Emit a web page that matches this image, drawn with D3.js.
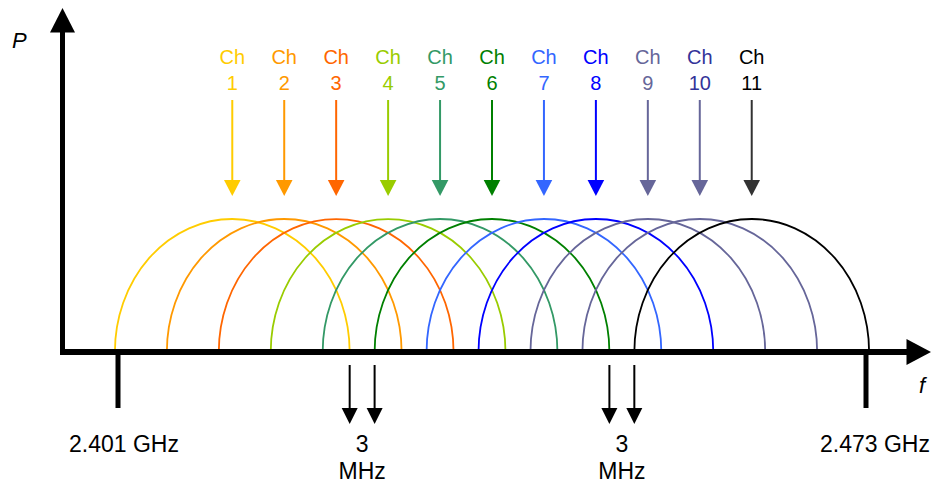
<!DOCTYPE html>
<html>
<head>
<meta charset="utf-8">
<script src="https://cdn.jsdelivr.net/npm/d3@7"></script>
<style>
  html, body { margin: 0; padding: 0; background: #fff; }
  svg { display: block; font-family: Arial, "Liberation Sans", Helvetica, sans-serif; }
</style>
</head>
<body>
<svg id="chart" width="936" height="484"></svg>
<script>
// ---- data ----
const channels      = [1, 2, 3, 4, 5, 6, 7, 8, 9, 10, 11];
const centerMHz     = [2412, 2417, 2422, 2427, 2432, 2437, 2442, 2447, 2452, 2457, 2462];
const halfWidthMHz  = 11.3;            // half of the channel mask width (as drawn)
const peakPower     = [1, 1, 1, 1, 1, 1, 1, 1, 1, 1, 1];
const arcColors     = ["#FFCC00", "#FF9900", "#FF6600", "#99CC00", "#339966", "#008000",
                       "#3366FF", "#0000FF", "#666699", "#666699", "#000000"];
const arrowColors   = ["#FFCC00", "#FF9900", "#FF6600", "#99CC00", "#339966", "#008000",
                       "#3366FF", "#0000FF", "#666699", "#666699", "#333333"];
const textColors    = ["#FFCC00", "#FF9900", "#FF6600", "#99CC00", "#339966", "#008000",
                       "#3366FF", "#0000FF", "#666699", "#333399", "#000000"];
const bandEdges     = [2401, 2473];
const bandLabels    = ["2.401 GHz", "2.473 GHz"];
const gapPairs      = [[1, 6], [6, 11]];  // channels whose non-overlap gap is marked
const gapLabel      = ["3", "MHz"];

// ---- scales ----
const svg = d3.select("#chart");
const x = d3.scaleLinear().domain([2401, 2473]).range([118, 866]);
const y = d3.scaleLinear().domain([0, 1]).range([352, 219]);
const axisY = y(0);

// ---- channel masks (half ellipses) ----
const arcs = svg.append("g").attr("fill", "none").attr("stroke-width", 1.8);
channels.forEach((c, i) => {
  const x0 = x(centerMHz[i] - halfWidthMHz);
  const x1 = x(centerMHz[i] + halfWidthMHz);
  const rx = (x1 - x0) / 2;
  const ry = y(0) - y(peakPower[i]);
  arcs.append("path")
    .attr("d", `M${x0},${axisY} A${rx},${ry} 0 0 1 ${x1},${axisY}`)
    .attr("stroke", arcColors[i]);
});

// ---- channel arrows and labels ----
const chG = svg.append("g");
channels.forEach((c, i) => {
  const cx = x(centerMHz[i]);
  chG.append("line")
    .attr("x1", cx).attr("x2", cx).attr("y1", 100).attr("y2", 182)
    .attr("stroke", arrowColors[i]).attr("stroke-width", 2);
  chG.append("path")
    .attr("d", `M${cx - 8.3},180 L${cx + 8.3},180 L${cx},196 Z`)
    .attr("fill", arrowColors[i]);
  chG.append("text")
    .attr("x", cx).attr("y", 64).attr("text-anchor", "middle")
    .attr("font-size", 20).attr("fill", textColors[i]).text("Ch");
  chG.append("text")
    .attr("x", cx).attr("y", 89.5).attr("text-anchor", "middle")
    .attr("font-size", 20).attr("fill", textColors[i]).text(c);
});

// ---- axes ----
const axG = svg.append("g");
// y axis
axG.append("line").attr("x1", 62.5).attr("x2", 62.5).attr("y1", 355).attr("y2", 30)
  .attr("stroke", "#000").attr("stroke-width", 5);
axG.append("path").attr("d", "M50,32.5 L75,32.5 L62.5,8 Z").attr("fill", "#000");
// x axis
axG.append("line").attr("x1", 60).attr("x2", 910).attr("y1", axisY).attr("y2", axisY)
  .attr("stroke", "#000").attr("stroke-width", 6);
axG.append("path").attr("d", `M906.5,${axisY - 13} L906.5,${axisY + 13} L931,${axisY} Z`).attr("fill", "#000");

axG.append("text").attr("x", 12).attr("y", 48).attr("font-size", 22)
  .attr("font-style", "italic").text("P");
axG.append("text").attr("x", 922).attr("y", 393).attr("font-size", 22)
  .attr("font-style", "italic").attr("text-anchor", "middle").text("f");

// band edge ticks
bandEdges.forEach((f, i) => {
  const bx = x(f);
  axG.append("line").attr("x1", bx).attr("x2", bx).attr("y1", axisY).attr("y2", 408)
    .attr("stroke", "#000").attr("stroke-width", 5);
  axG.append("text").attr("x", bx + (i === 0 ? 6 : 9)).attr("y", 452)
    .attr("text-anchor", "middle").attr("font-size", 23).text(bandLabels[i]);
});

// ---- 3 MHz gap markers ----
const gG = svg.append("g");
gapPairs.forEach(([a, b]) => {
  const xa = x(centerMHz[a - 1] + halfWidthMHz);
  const xb = x(centerMHz[b - 1] - halfWidthMHz);
  [xa, xb].forEach(gx => {
    gG.append("line").attr("x1", gx).attr("x2", gx).attr("y1", 365).attr("y2", 410)
      .attr("stroke", "#000").attr("stroke-width", 2);
    gG.append("path").attr("d", `M${gx - 8},408 L${gx + 8},408 L${gx},424 Z`).attr("fill", "#000");
  });
  const mid = (xa + xb) / 2;
  gG.append("text").attr("x", mid).attr("y", 452).attr("text-anchor", "middle")
    .attr("font-size", 23).text(gapLabel[0]);
  gG.append("text").attr("x", mid).attr("y", 479).attr("text-anchor", "middle")
    .attr("font-size", 23).text(gapLabel[1]);
});
</script>
</body>
</html>
